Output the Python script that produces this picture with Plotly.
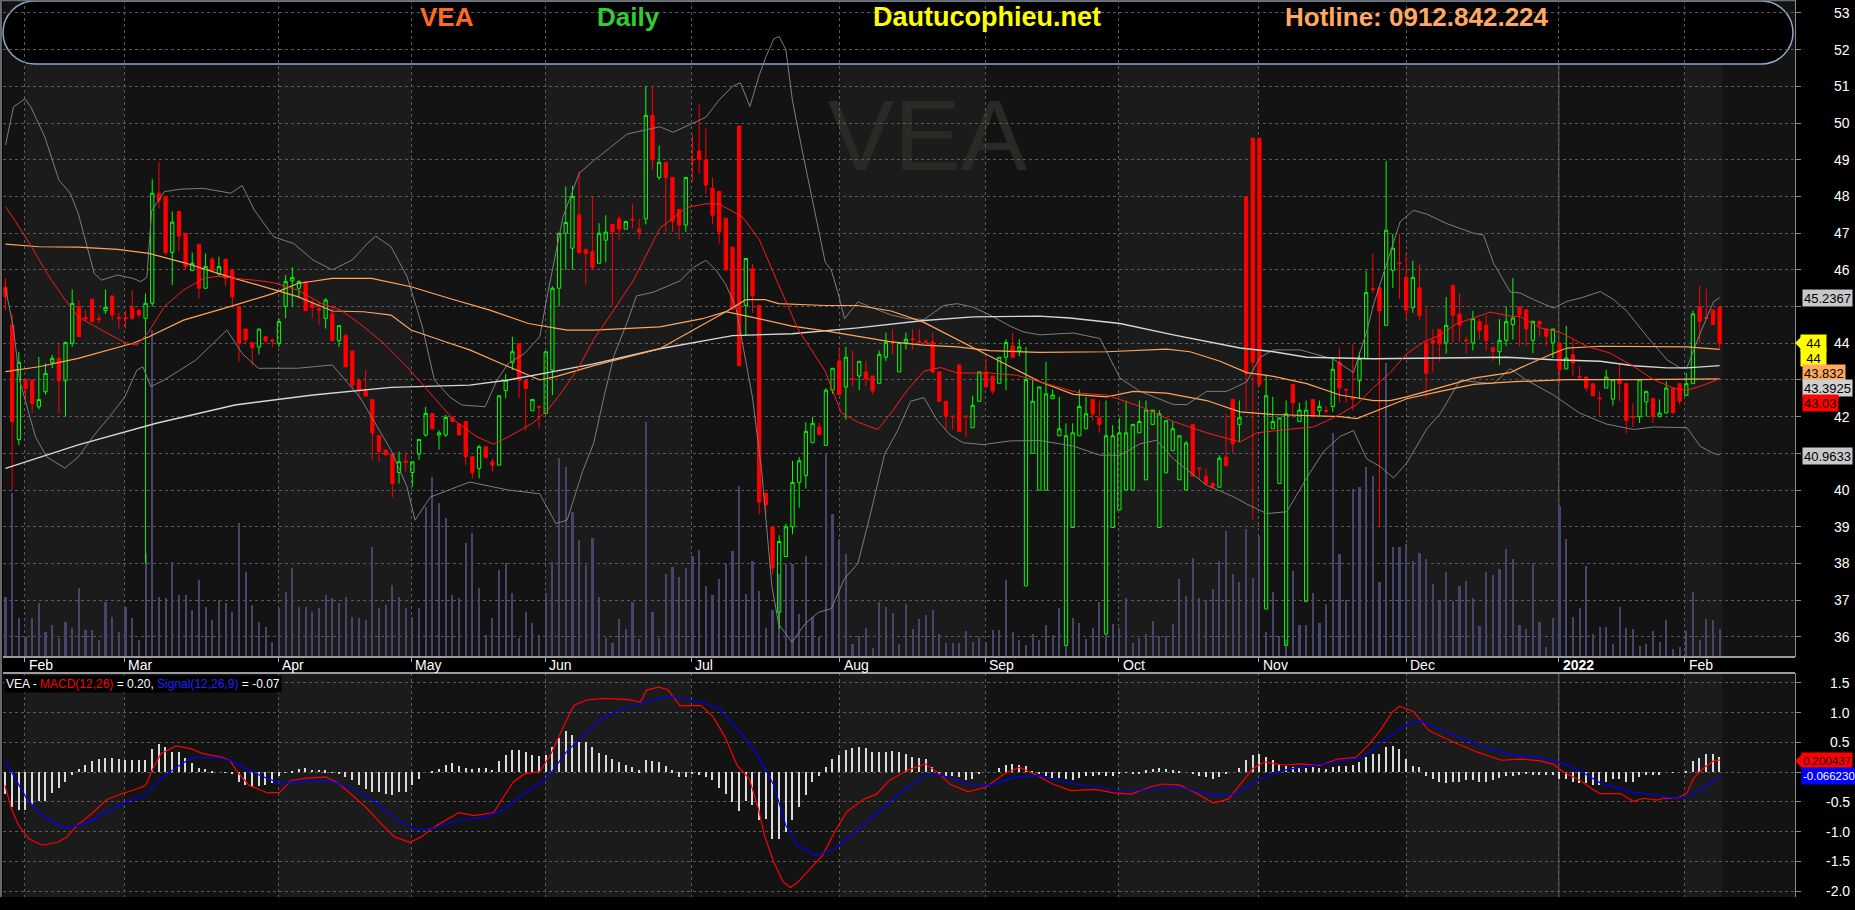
import plotly.graph_objects as go

W, H = 1855, 910
FONT = "Liberation Sans, Arial, sans-serif"

# ---------------- data ----------------
month_labels = ["Feb", "Mar", "Apr", "May", "Jun", "Jul", "Aug", "Sep",
                "Oct", "Nov", "Dec", "2022", "Feb"]
month_start = [2.9, 17.8, 40.9, 60.8, 80.9, 102.8, 125.1, 146.9,
               166.9, 187.9, 210.0, 232.9, 251.8]

open_ = [
    45.53, 44.50, 41.38, 43.00, 43.00, 42.27, 42.68, 43.48, 43.59, 42.98,
    44.00, 45.00, 44.70, 45.20, 44.68, 44.89, 45.29, 44.70, 44.70, 44.98,
    44.90, 44.68, 45.09, 48.09, 48.00, 46.47, 47.59, 47.00, 45.98, 46.70,
    45.50, 46.29, 45.89, 46.29, 46.00, 45.00, 44.39, 44.02, 43.90, 44.18,
    44.09, 44.00, 45.00, 45.70, 45.50, 45.68, 45.09, 44.94, 44.68, 44.80,
    44.07, 44.21, 43.79, 42.99, 42.71, 42.47, 41.49, 41.09, 40.98, 40.48,
    40.79, 40.48, 40.98, 41.50, 42.09, 41.50, 41.50, 41.98, 41.80, 41.87,
    40.91, 40.59, 41.18, 40.77, 40.68, 42.71, 43.48, 44.00, 42.99, 42.16,
    42.28, 42.09, 43.27, 45.50, 47.00, 46.59, 47.50, 46.55, 46.50, 46.18,
    46.81, 47.24, 47.39, 47.11, 47.38, 47.11, 47.39, 50.21, 48.52, 48.93,
    48.52, 47.65, 47.22, 49.01, 49.24, 49.00, 48.23, 48.14, 47.41, 46.62,
    49.92, 45.03, 46.03, 45.03, 39.92, 39.00, 36.67, 38.19, 39.00, 40.21,
    40.40, 41.29, 41.72, 41.22, 42.72, 43.52, 42.81, 43.04, 43.11, 43.22,
    43.11, 42.91, 43.62, 44.05, 43.22, 44.02, 44.12, 44.05, 44.05, 44.04,
    43.22, 42.42, 42.02, 43.41, 42.02, 41.70, 42.42, 43.22, 43.11, 42.91,
    43.62, 43.93, 43.80, 37.39, 41.00, 40.00, 40.00, 42.49, 41.48, 35.77,
    38.98, 41.48, 41.67, 42.47, 41.97, 36.08, 38.98, 39.46, 40.00, 40.00,
    41.56, 40.28, 41.79, 38.98, 40.47, 41.07, 40.28, 40.00, 41.79, 40.60,
    40.38, 40.18, 40.08, 40.90, 42.47, 41.79, 48.00, 49.59, 49.59, 36.76,
    41.67, 40.18, 35.77, 42.88, 41.87, 36.97, 42.47, 42.16, 42.17, 42.28,
    43.48, 42.75, 42.50, 42.98, 43.58, 45.49, 45.51, 44.49, 45.99, 46.19,
    45.79, 44.97, 45.51, 44.01, 44.08, 44.38, 44.01, 45.58, 44.80, 44.09,
    44.01, 44.59, 44.49, 43.88, 43.77, 44.08, 44.51, 44.99, 44.91, 44.08,
    44.60, 44.39, 44.01, 44.01, 43.30, 43.69, 43.09, 43.08, 42.90, 42.51,
    42.78, 42.48, 43.01, 42.90, 42.01, 42.00, 42.40, 42.50, 42.00, 42.10,
    42.78, 42.90, 42.58, 42.90, 44.99, 44.70, 44.91, 44.99,
]
high = [
    45.77, 44.80, 43.77, 43.05, 43.00, 43.63, 43.45, 43.68, 44.00, 44.05,
    45.47, 45.18, 44.90, 45.20, 44.80, 45.47, 45.29, 44.83, 44.90, 45.45,
    44.95, 45.36, 48.47, 48.95, 48.00, 47.59, 47.59, 47.00, 46.47, 46.70,
    46.45, 46.35, 46.36, 46.30, 46.00, 45.00, 44.39, 44.02, 44.39, 44.20,
    44.13, 44.68, 45.86, 46.07, 45.72, 45.68, 45.18, 45.13, 45.23, 45.04,
    44.48, 44.27, 43.79, 43.04, 43.27, 42.47, 41.49, 41.09, 40.98, 41.05,
    41.05, 40.77, 41.38, 42.27, 42.09, 41.63, 42.05, 41.98, 41.80, 41.87,
    40.91, 41.23, 41.18, 40.86, 42.57, 43.16, 44.18, 44.00, 42.99, 42.47,
    42.28, 43.77, 45.55, 47.00, 48.27, 48.29, 48.68, 46.60, 48.00, 47.27,
    47.49, 47.24, 47.49, 47.32, 47.80, 47.39, 51.01, 51.01, 49.39, 48.93,
    48.52, 47.65, 48.52, 49.70, 50.50, 49.85, 48.52, 48.14, 47.41, 46.62,
    49.92, 46.31, 46.16, 45.03, 39.92, 39.00, 38.77, 39.08, 40.80, 40.90,
    41.85, 42.00, 41.85, 42.78, 43.32, 43.90, 43.90, 43.80, 43.51, 43.51,
    43.11, 43.80, 44.29, 44.38, 44.02, 44.29, 44.38, 44.38, 44.11, 44.29,
    43.22, 42.42, 42.02, 43.41, 42.02, 42.57, 43.22, 43.60, 43.11, 43.62,
    44.11, 44.29, 44.11, 43.90, 43.01, 42.81, 43.49, 42.74, 42.54, 41.82,
    41.82, 42.74, 42.54, 42.47, 42.44, 42.44, 41.77, 41.97, 42.44, 41.79,
    42.44, 42.44, 42.18, 42.18, 41.89, 41.87, 41.48, 41.34, 41.79, 40.60,
    40.59, 40.23, 40.95, 42.08, 42.47, 42.44, 48.00, 49.59, 49.59, 43.15,
    42.54, 41.97, 42.44, 42.88, 42.38, 42.44, 42.47, 42.44, 42.28, 43.62,
    43.87, 42.75, 43.98, 43.77, 45.98, 46.44, 45.51, 48.97, 46.98, 46.98,
    46.44, 46.25, 46.15, 44.97, 44.38, 44.38, 45.26, 45.58, 45.36, 44.18,
    44.88, 44.66, 44.76, 43.88, 44.66, 45.00, 45.78, 44.99, 44.91, 44.60,
    44.60, 44.39, 44.39, 44.01, 44.48, 44.12, 43.37, 43.08, 42.90, 42.69,
    43.28, 43.01, 43.46, 42.90, 42.37, 43.01, 42.69, 42.50, 42.47, 42.96,
    42.78, 42.90, 43.19, 44.89, 45.57, 45.48, 44.91, 44.99,
]
low = [
    44.90, 40.00, 41.23, 42.45, 42.09, 42.20, 42.60, 43.32, 42.09, 42.00,
    43.90, 44.18, 44.59, 44.59, 44.55, 44.80, 44.63, 44.40, 44.40, 44.63,
    44.70, 38.00, 45.00, 47.68, 46.40, 45.59, 46.50, 46.00, 45.98, 45.22,
    45.50, 45.90, 45.82, 45.55, 44.95, 43.50, 44.00, 43.40, 43.70, 44.00,
    43.90, 43.90, 44.68, 45.00, 45.23, 44.89, 44.68, 44.50, 44.40, 44.05,
    43.90, 43.36, 42.77, 42.50, 42.56, 40.82, 40.77, 40.96, 39.80, 40.18,
    40.50, 40.09, 40.82, 41.45, 41.67, 41.10, 41.45, 41.87, 41.50, 40.68,
    40.32, 40.32, 40.89, 40.50, 40.68, 42.50, 43.27, 42.50, 41.63, 42.16,
    41.68, 42.09, 42.59, 45.00, 46.00, 46.00, 46.45, 45.60, 46.00, 46.18,
    46.21, 45.03, 46.82, 47.11, 47.13, 46.83, 47.24, 48.72, 48.45, 47.03,
    47.03, 46.83, 47.03, 48.41, 48.62, 48.06, 47.24, 46.72, 46.00, 44.93,
    43.39, 44.21, 44.83, 39.34, 39.34, 37.69, 36.21, 38.19, 38.80, 39.52,
    40.04, 41.29, 41.51, 41.22, 42.62, 42.60, 41.92, 42.83, 42.72, 42.83,
    42.62, 42.91, 43.52, 43.70, 43.22, 43.83, 43.83, 43.95, 43.95, 43.19,
    42.42, 41.65, 41.65, 41.60, 41.44, 41.70, 42.42, 42.81, 42.62, 42.91,
    42.72, 43.62, 43.65, 37.39, 41.00, 40.00, 40.00, 42.49, 41.48, 35.77,
    38.98, 41.48, 41.67, 41.89, 41.56, 36.08, 38.98, 39.46, 40.00, 40.00,
    41.56, 40.28, 41.79, 38.98, 40.47, 41.07, 40.28, 40.00, 40.38, 40.28,
    40.13, 40.08, 40.08, 40.66, 41.00, 41.31, 42.18, 39.20, 42.80, 36.76,
    41.67, 40.18, 35.77, 41.97, 41.87, 36.97, 42.00, 42.03, 42.08, 42.13,
    42.38, 42.38, 42.18, 42.49, 43.58, 45.36, 38.98, 44.49, 45.51, 45.21,
    44.62, 44.83, 44.64, 42.49, 43.20, 43.51, 43.72, 44.03, 44.03, 43.72,
    43.80, 44.11, 43.80, 43.51, 43.41, 43.92, 44.10, 43.92, 43.92, 43.73,
    44.19, 43.92, 43.60, 42.92, 43.30, 43.10, 43.01, 42.69, 42.57, 42.01,
    42.78, 42.30, 42.42, 41.54, 41.72, 41.83, 42.00, 41.83, 42.00, 42.10,
    42.10, 42.33, 42.58, 42.90, 44.01, 44.68, 44.51, 43.83,
]
close = [
    45.27, 41.86, 43.48, 42.77, 42.36, 42.47, 43.18, 43.59, 42.98, 44.02,
    45.09, 44.18, 44.66, 44.59, 44.64, 44.98, 44.77, 44.67, 44.67, 44.68,
    44.77, 45.09, 48.09, 47.89, 46.47, 47.30, 46.92, 46.09, 46.18, 45.50,
    46.09, 45.98, 46.09, 45.77, 45.27, 44.00, 44.09, 43.89, 44.39, 44.07,
    44.06, 44.59, 45.68, 45.79, 45.68, 44.89, 44.98, 44.91, 45.18, 44.07,
    44.48, 43.36, 42.86, 42.71, 42.56, 41.56, 41.05, 40.96, 40.18, 40.77,
    40.76, 40.77, 41.38, 42.09, 41.67, 41.56, 41.98, 41.87, 41.50, 40.91,
    40.47, 41.18, 40.89, 40.68, 42.57, 42.99, 43.77, 42.99, 42.77, 42.47,
    42.26, 43.77, 45.50, 47.00, 47.29, 48.00, 46.47, 46.45, 46.07, 47.00,
    47.03, 47.03, 47.11, 47.32, 47.36, 47.03, 50.21, 49.00, 48.93, 48.52,
    47.32, 47.22, 48.52, 48.99, 49.00, 48.31, 47.49, 47.03, 46.00, 44.93,
    43.39, 46.31, 45.29, 39.67, 39.60, 37.88, 38.60, 39.00, 40.21, 40.80,
    41.60, 41.82, 41.51, 42.72, 43.32, 42.60, 43.62, 43.02, 43.51, 43.03,
    42.70, 43.70, 44.02, 44.03, 44.02, 44.11, 44.10, 44.03, 44.03, 43.22,
    42.42, 42.01, 42.00, 41.60, 42.00, 42.31, 43.22, 42.81, 42.70, 43.62,
    44.02, 43.62, 43.90, 43.01, 42.42, 42.81, 42.62, 42.59, 41.67, 41.48,
    41.56, 42.28, 42.08, 42.08, 41.79, 41.48, 41.48, 41.56, 41.56, 41.79,
    41.87, 42.18, 42.18, 42.08, 41.89, 41.67, 41.48, 41.28, 40.38, 40.58,
    40.18, 40.08, 40.87, 40.66, 41.26, 41.97, 43.18, 43.48, 42.88, 42.57,
    41.87, 41.97, 42.08, 42.38, 42.18, 42.18, 42.00, 42.28, 42.15, 43.29,
    42.78, 42.73, 42.48, 43.58, 45.38, 45.47, 44.88, 47.08, 46.59, 46.17,
    44.90, 45.79, 44.76, 43.18, 44.01, 43.98, 44.49, 44.76, 44.49, 44.07,
    44.67, 44.35, 44.08, 43.77, 44.08, 44.59, 44.69, 44.78, 44.39, 44.60,
    44.51, 44.19, 44.39, 43.28, 43.60, 43.46, 43.07, 42.78, 42.57, 42.49,
    43.08, 43.01, 42.90, 41.90, 41.99, 43.01, 42.69, 42.00, 42.10, 42.78,
    42.10, 42.42, 42.90, 44.80, 44.60, 44.68, 44.51, 44.00,
]
volume = [
    60, 164, 39, 20, 39, 54, 25, 32, 19, 35, 29, 69, 27, 27, 17, 55, 40, 25, 50, 39,
    17, 104, 327, 60, 59, 95, 62, 62, 47, 77, 50, 37, 57, 54, 45, 134, 85, 52, 35, 30,
    15, 49, 65, 89, 50, 50, 45, 49, 62, 59, 54, 60, 40, 39, 37, 110, 49, 52, 72, 60,
    49, 40, 49, 150, 180, 154, 139, 62, 59, 114, 124, 69, 22, 39, 87, 94, 64, 19, 45, 34,
    22, 64, 95, 199, 190, 145, 117, 92, 119, 60,
    19, 14, 38, 28, 55, 18, 235, 45, 19, 83, 90, 80, 89, 101, 107, 71, 62, 78, 93, 106,
    171, 63, 96, 66, 29, 47, 83, 93, 93, 43, 101, 40, 20, 204, 143, 118, 103, 13, 21, 29,
    9, 55, 50, 44, 13, 53, 28, 38, 42, 47, 23, 14, 14, 14, 26, 15, 20, 15, 27, 27,
    77, 25, 17, 12, 23, 17, 32,
    22, 49, 12, 39, 34, 18, 29, 55, 23, 33, 29, 59, 14, 19, 23, 36, 21, 21, 33, 78,
    61, 99, 59, 57, 68, 96, 126, 83, 75, 128, 79, 121, 25, 65, 21, 17, 86, 32, 32, 64,
    34, 53, 224, 103, 57, 168, 170, 190, 181, 75, 294, 110, 110, 113, 96, 104, 98, 73, 57, 85,
    56, 71, 76, 59, 31, 85, 82,
    88, 108, 98, 32, 28, 94, 35, 10, 39, 151, 118, 40, 49, 91, 23, 30, 30, 13, 50, 29,
    28, 11, 13, 26, 15, 37, 8, 10, 26, 65, 17, 38, 37, 28,
]
macd_hist = [
    -0.36, -0.59, -0.63, -0.63, -0.56, -0.49, -0.48, -0.35, -0.27, -0.16,
    -0.05, 0.06, 0.12, 0.18, 0.22, 0.24, 0.24, 0.22, 0.20, 0.20,
    0.20, 0.20, 0.39, 0.48, 0.42, 0.34, 0.34, 0.24, 0.16, 0.07,
    0.06, 0.02, 0.00, -0.01, -0.03, -0.17, -0.22, -0.25, -0.24, -0.22,
    -0.18, -0.06, -0.01, 0.01, 0.06, 0.07, 0.04, 0.04, 0.03, -0.01,
    -0.03, -0.08, -0.14, -0.22, -0.28, -0.34, -0.34, -0.36, -0.39, -0.34,
    -0.34, -0.22, -0.12, 0.00, 0.01, 0.06, 0.12, 0.16, 0.11, 0.07,
    0.06, 0.07, 0.07, 0.04, 0.18, 0.28, 0.38, 0.38, 0.34, 0.29,
    0.27, 0.29, 0.42, 0.57, 0.70, 0.62, 0.50,
    0.51, 0.42, 0.32, 0.28, 0.22, 0.17, 0.12, 0.08, 0.03, 0.20,
    0.19, 0.17, 0.11, 0.03, -0.08, -0.08, -0.03, -0.04, -0.08, -0.14,
    -0.27, -0.37, -0.51, -0.65, -0.48, -0.56, -0.81, -0.79, -1.12, -1.12,
    -1.01, -0.81, -0.59, -0.38, -0.16, -0.06, 0.08, 0.22, 0.28, 0.38,
    0.40, 0.42, 0.40, 0.34, 0.34, 0.34, 0.35, 0.34, 0.31, 0.25,
    0.24, 0.22, 0.08, -0.03, -0.06, -0.07, -0.08, -0.14, -0.12, -0.03,
    0.00, 0.00, 0.07, 0.12, 0.14, 0.12, 0.10, 0.01, -0.03, -0.07,
    -0.10, -0.10, -0.11, -0.14, -0.10, -0.07, -0.06, -0.04, -0.06, -0.06,
    -0.03, -0.01, -0.03, -0.03, 0.03, 0.06, 0.07, 0.06, 0.03, 0.01,
    0.00, -0.03, -0.07, -0.08, -0.12, -0.08, -0.03, 0.00, 0.07, 0.20,
    0.28, 0.30, 0.25, 0.21, 0.14, 0.11, 0.08, 0.08, 0.07, 0.08,
    0.07, 0.06, 0.08, 0.10, 0.10, 0.12, 0.17, 0.25, 0.31, 0.31,
    0.42, 0.44, 0.39, 0.22, 0.11, 0.08, -0.07, -0.12, -0.17, -0.18,
    -0.17, -0.16, -0.14, -0.14, -0.16, -0.17, -0.14, -0.10, -0.07, -0.06,
    -0.04, -0.03,
    -0.04, -0.04, -0.04, -0.04, -0.12, -0.12, -0.17, -0.18, -0.18, -0.21,
    -0.21, -0.17, -0.12, -0.12, -0.17, -0.17, -0.08, -0.04, -0.04, -0.04,
    0.00, -0.01, 0.00, 0.02, 0.19, 0.24, 0.30, 0.30, 0.26,
]

# indicator lines, sampled as (bar index, value)
ma20_pts = [
    (0, 47.72), (1.5, 47.32), (3.9, 46.63), (6.2, 45.91), (8.6, 45.27), (10.9, 44.72),
    (14.4, 44.36), (17.9, 44.02), (19.7, 43.95), (21.5, 44.32), (23.8, 45.0), (26.7, 45.45),
    (29.7, 45.77), (32.0, 45.83), (34.4, 45.77), (37.9, 45.71), (40.2, 45.65), (43.8, 45.45),
    (47.3, 45.09), (50.2, 44.91), (53.1, 44.54), (56.7, 44.0), (60.2, 43.36), (63.7, 42.63),
    (67.2, 41.91), (70.7, 41.45), (73.2, 41.25), (75.4, 41.45), (79.0, 41.82), (81.3, 42.18),
    (83.6, 42.72), (86.0, 43.36), (88.2, 44.11), (90.7, 44.77), (94.1, 45.7), (98.1, 47.13),
    (102.1, 47.7), (105.0, 47.8), (107.0, 47.8), (110.5, 47.44), (113.0, 46.83), (115.9, 45.6),
    (118.9, 44.36), (122.9, 43.24), (125.3, 42.11), (127.8, 41.85), (130.8, 41.65), (132.8, 42.11),
    (135.2, 42.72), (137.7, 43.24), (140.2, 43.34), (142.7, 43.19), (147.6, 43.19), (151.6, 43.13),
    (155.1, 42.95), (158.1, 42.8), (161.1, 42.64), (165.1, 42.59), (170.1, 42.28), (175.1, 41.87),
    (180.1, 41.56), (185.1, 41.31), (187.6, 41.56), (193.1, 41.67), (196.1, 41.72), (199.1, 41.97),
    (202.6, 42.33), (205.1, 42.8), (207.6, 43.2), (210.1, 43.72), (212.6, 44.03), (215.1, 44.23),
    (217.6, 44.54), (220.1, 44.69), (222.6, 44.85), (225.6, 44.74), (227.1, 44.73), (230.1, 44.42),
    (233.1, 44.3), (237.1, 43.92), (240.6, 43.73), (244.1, 43.37), (247.1, 43.01), (250.1, 42.78),
    (252.1, 42.72), (254.1, 42.83), (257, 43.03),
]
ma50_pts = [
    (0, 46.7), (5, 46.63), (10.9, 46.62), (16.8, 46.56), (21.5, 46.45), (26.7, 46.2),
    (33.2, 45.83), (40.2, 45.45), (43.8, 45.27), (49, 44.88), (53.7, 44.86), (57.8, 44.77),
    (60.8, 44.36), (66.6, 44.0), (69.6, 43.82), (74.3, 43.45), (80.1, 43.0), (82.5, 43.09),
    (87.2, 43.32), (88.2, 43.39), (98.1, 43.85), (103.1, 44.36), (108, 44.86), (111, 45.19),
    (113.9, 45.19), (115.9, 45.08), (122.9, 45.03), (127.8, 45.03), (132.8, 44.88), (137.7, 44.57),
    (142.7, 44.11), (147.6, 43.65), (152, 43.25), (155.1, 42.95), (160.1, 42.61), (165.1, 42.54),
    (169.1, 42.69), (174.1, 42.64), (180.1, 42.44), (185.1, 42.13), (190.1, 42.06), (195.1, 42.03),
    (200.1, 42.0), (202.6, 41.95), (205.1, 42.13), (210.1, 42.49), (215.1, 42.69), (220.1, 42.88),
    (225.6, 42.95), (234.1, 43.01), (244.1, 43.01), (257, 43.03),
]
ma100_pts = [
    (0, 43.23), (5, 43.36), (10.9, 43.59), (19.1, 44.0), (21.5, 44.18), (26.7, 44.63),
    (34.4, 45.04), (40.2, 45.36), (43.8, 45.63), (49, 45.77), (54.9, 45.77), (60.8, 45.54),
    (66.6, 45.22), (72.5, 44.91), (78.4, 44.54), (84.2, 44.36), (88.2, 44.36), (98.1, 44.45),
    (104.5, 44.67), (108, 44.86), (112.9, 44.67), (117.9, 44.47), (122.9, 44.34), (132.8, 44.04),
    (137.7, 43.95), (142.7, 43.9), (147.6, 43.8), (155, 43.75), (165.1, 43.77), (174.1, 43.84),
    (177.6, 43.77), (182.1, 43.51), (186.1, 43.2), (190.1, 43.1), (195.1, 42.9), (200.1, 42.59),
    (205.1, 42.44), (207.6, 42.44), (210.1, 42.54), (215.1, 42.8), (220.1, 43.05), (225.6, 43.2),
    (227.1, 43.33), (232.1, 43.73), (234.1, 43.87), (239.1, 43.92), (244.1, 43.92), (252.1, 43.9),
    (257, 43.832),
]
ma200_pts = [
    (0, 40.59), (10.9, 41.23), (22.6, 41.82), (34.4, 42.32), (46.1, 42.59), (57.8, 42.8),
    (69.6, 42.86), (75.4, 43.0), (81.3, 43.2), (88.2, 43.44), (98.1, 43.85), (109, 44.21),
    (117.9, 44.26), (127.8, 44.42), (137.7, 44.62), (145.1, 44.72), (155, 44.74), (159.6, 44.69),
    (167.1, 44.54), (175.1, 44.23), (185.1, 43.87), (190.1, 43.77), (195.1, 43.62), (205.1, 43.58),
    (225.1, 43.62), (232, 43.55), (239.1, 43.51), (244.1, 43.39), (249.1, 43.33), (252.1, 43.33),
    (257, 43.3925),
]
bb_upper_pts = [
    (0, 49.4), (1.2, 50.44), (2.9, 50.66), (3.8, 50.44), (5.9, 49.62), (8.0, 48.45), (9.7, 48.09),
    (10.9, 47.54), (12.1, 46.73), (13.3, 45.9), (14.4, 45.72), (16.8, 45.86), (19.1, 45.77),
    (20.3, 45.68), (21.2, 45.8), (21.9, 47.6), (23.8, 48.13), (26.2, 48.2), (29.7, 48.22),
    (33.8, 48.09), (35.5, 48.3), (37.3, 47.63), (40.2, 46.9), (43.2, 46.72), (46.1, 46.27),
    (49, 46.0), (52, 46.27), (54.3, 46.73), (55.5, 46.92), (57.8, 46.63), (60.2, 45.82),
    (62.5, 44.45), (64.3, 43.0), (66.6, 42.54), (68.4, 42.32), (71.9, 42.27), (73.7, 43.0),
    (75.4, 43.45), (77.8, 43.72), (80.1, 44.18), (81.3, 45.36), (83.6, 47.45), (86.0, 48.63),
    (88.2, 48.98), (90.7, 49.34), (93.2, 49.7), (98.1, 49.9), (100.1, 49.75), (103.1, 50.0),
    (105, 50.16), (107, 50.63), (109, 51.0), (110.2, 51.1), (111.6, 50.45), (113, 51.3),
    (114, 51.8), (115.2, 52.3), (116, 52.36), (117, 52.0), (118, 50.6), (119.4, 49.3),
    (121, 47.9), (122.9, 46.21), (123.8, 46.0), (124.8, 45.39), (125.8, 44.67), (127.8, 45.13),
    (129.8, 44.98), (132.8, 44.77), (135.2, 44.67), (137.7, 44.65), (140.7, 45.03), (142.7, 45.08),
    (145.1, 44.98), (147.6, 44.77), (150.6, 44.47), (152.6, 44.31), (155.1, 44.23), (160.1, 44.28),
    (164.1, 44.13), (167.1, 43.05), (170.1, 42.69), (175.1, 42.33), (177.1, 42.33), (180.1, 42.69),
    (183.1, 42.69), (186.1, 42.95), (188.1, 43.62), (190.1, 43.82), (194.1, 43.82), (199.1, 43.57),
    (202.1, 43.2), (204.1, 44.33), (205.1, 45.05), (207.1, 46.18), (209.1, 47.31), (211.1, 47.62),
    (213.1, 47.52), (216.1, 47.26), (220.1, 47.0), (221.6, 46.95), (223.1, 46.18), (225.6, 45.4),
    (227.1, 45.37), (229.1, 45.19), (232.1, 44.96), (234.1, 45.14), (236.1, 45.23), (239.1, 45.41),
    (241.1, 45.19), (243.1, 44.87), (246.1, 44.19), (249.1, 43.55), (251.1, 43.33), (252.1, 43.33),
    (254.1, 44.28), (256.1, 45.14), (257, 45.2367),
]
bb_lower_pts = [
    (0, 45.5), (1.2, 44.4), (2.1, 43.0), (3.3, 42.2), (4.5, 41.45), (6.2, 40.9), (8.9, 40.6),
    (10.9, 40.9), (13.3, 41.5), (15.6, 42.0), (17.9, 42.54), (19.7, 43.27), (20.6, 43.36),
    (21.8, 42.82), (23.8, 43.0), (28.5, 43.54), (33.2, 44.36), (35.5, 43.72), (37.9, 43.32),
    (43.8, 43.32), (49, 43.41), (53.1, 42.54), (57.8, 41.09), (60.2, 40.09), (61.4, 39.18),
    (63.7, 39.81), (69.6, 40.22), (75.4, 40.0), (80.1, 39.9), (82.5, 39.09), (84.2, 39.18),
    (86.5, 40.5), (88.2, 41.29), (89.7, 42.52), (91.2, 43.65), (93.2, 44.57), (94.6, 45.29),
    (97.1, 45.39), (101.1, 45.7), (103.1, 46.06), (105, 46.26), (106.5, 46.0), (108, 45.6),
    (109.5, 44.98), (111, 43.54), (112, 42.52), (113.4, 40.47), (114.9, 37.39), (115.9, 36.36),
    (117.9, 35.85), (119.9, 36.36), (121.9, 36.67), (123.8, 36.77), (125.8, 37.59), (127.8, 38.0),
    (129.8, 39.44), (131.8, 40.98), (133.7, 41.6), (135.7, 42.42), (137.7, 42.52), (139.7, 41.9),
    (141.7, 41.49), (143.6, 41.29), (146.6, 41.24), (150.6, 41.34), (155.1, 41.35), (160.1, 41.2),
    (164.1, 40.95), (167.1, 40.95), (170.1, 41.26), (172.6, 41.36), (175.1, 40.85), (180.1, 40.13),
    (184.1, 39.82), (186.1, 39.62), (189.1, 39.36), (192.1, 39.41), (195.1, 40.33), (197.6, 41.05),
    (200.1, 41.46), (202.1, 41.62), (204.1, 40.85), (206.1, 40.64), (208.1, 40.33), (210.1, 40.74),
    (213.1, 41.67), (215.1, 42.08), (218.1, 43.0), (220.1, 42.95), (223.1, 42.9), (225.6, 43.31),
    (228, 43.0), (232, 42.6), (236, 42.1), (240, 41.8), (244.1, 41.65), (247.1, 41.72),
    (252.1, 41.7), (254.1, 41.19), (256.1, 41.0), (257, 40.9633),
]
macd_pts = [
    (-0.1, -0.22), (0.9, -0.62), (2.0, -0.9), (3.5, -1.12), (5.5, -1.23), (7.8, -1.18),
    (9.2, -1.09), (10.7, -0.9), (12.9, -0.7), (15.2, -0.46), (17.5, -0.36), (19.8, -0.28),
    (21, -0.22), (22.1, 0.06), (23.3, 0.31), (25.6, 0.44), (27.9, 0.39), (29.6, 0.31),
    (32.5, 0.25), (33.6, 0.2), (34.8, 0.0), (36.5, -0.22), (39.3, -0.35), (41.1, -0.34),
    (42.8, -0.14), (45.1, -0.1), (48.0, -0.08), (49.7, -0.17), (52, -0.39), (54.3, -0.62),
    (56.6, -0.9), (58.3, -1.09), (60.6, -1.18), (62.3, -1.09), (64.6, -0.9), (68, -0.68),
    (70.3, -0.73), (73.2, -0.68), (76.1, -0.17), (77.8, -0.03), (80.1, 0.01), (81.8, 0.31),
    (83.5, 0.73), (85.2, 1.12), (87, 1.21), (89.7, 1.24), (93.4, 1.22), (95.2, 1.18),
    (96.1, 1.38), (97.9, 1.43), (99.3, 1.39), (101.1, 1.12), (104.3, 1.12), (106.1, 0.93),
    (107.9, 0.59), (109.7, 0.11), (111.5, -0.11), (112.9, -0.62), (113.8, -1.07), (115.2, -1.52),
    (116.6, -1.85), (117.7, -1.94), (118.8, -1.85), (120.6, -1.63), (122.5, -1.4), (124.3, -1.01),
    (126.1, -0.67), (128.8, -0.45), (130.6, -0.37), (132.5, -0.14), (135.2, 0.03), (137.9, 0.14),
    (139.7, 0.0), (141.6, -0.2), (144.3, -0.33), (147, -0.25), (149.7, -0.03), (152, 0.08),
    (154.3, -0.03), (157, -0.2), (159.7, -0.31), (163.4, -0.29), (166.1, -0.35), (168.8, -0.37),
    (171.6, -0.25), (173.4, -0.2), (176.1, -0.22), (178.8, -0.37), (181.1, -0.52), (183.4, -0.45),
    (185.2, -0.2), (187, 0.06), (188.8, 0.17), (191.5, 0.12), (194.3, 0.14), (197, 0.11),
    (199.7, 0.22), (202.5, 0.25), (204.3, 0.45), (206.1, 0.7), (207.9, 1.01), (209, 1.11),
    (211.1, 1.02), (213.4, 0.7), (217, 0.51), (220.6, 0.34), (224.3, 0.2), (227.1, 0.22),
    (230.1, 0.19), (232.1, 0.13), (233.6, 0.0), (236.1, -0.14), (238.1, -0.3), (239.1, -0.36),
    (242.1, -0.36), (244.1, -0.49), (245.6, -0.44), (247.6, -0.47), (248.6, -0.44), (250.6, -0.44),
    (252.1, -0.35), (253.1, -0.1), (254.6, 0.07), (256.1, 0.19), (257, 0.2004),
]
signal_pts = [
    (-0.1, 0.2), (1.5, -0.11), (3.2, -0.45), (5.5, -0.73), (8.9, -0.94), (11.8, -0.87),
    (15.2, -0.67), (18.1, -0.5), (21, -0.39), (23.3, -0.11), (25.6, 0.08), (27.9, 0.24),
    (31.3, 0.25), (33.6, 0.2), (36.5, 0.03), (39.3, -0.11), (41.6, -0.2), (45.1, -0.14),
    (48.5, -0.14), (52, -0.28), (55.4, -0.5), (58.8, -0.81), (61.7, -0.98), (64, -0.95),
    (68, -0.81), (72, -0.76), (74.9, -0.62), (77.8, -0.36), (81.2, -0.1), (84.1, 0.34),
    (86.1, 0.56), (89.7, 0.93), (93.4, 1.1), (96.1, 1.18), (99.3, 1.28), (102.5, 1.21),
    (105.2, 1.15), (107, 1.07), (109.7, 0.73), (112.5, 0.34), (115.2, -0.22), (117, -0.9),
    (118.8, -1.24), (121.5, -1.4), (124.3, -1.29), (127.9, -0.96), (131.6, -0.59), (135.2, -0.25),
    (138.4, -0.04), (140.6, -0.06), (144.3, -0.2), (147.9, -0.21), (151.6, -0.08), (155.2, -0.06),
    (158.8, -0.17), (163.4, -0.25), (167.9, -0.33), (172.5, -0.28), (176.1, -0.25), (180.6, -0.39),
    (184.3, -0.37), (187.9, -0.12), (191.5, 0.03), (195.2, 0.1), (199.7, 0.17), (203.4, 0.25),
    (207, 0.56), (209.7, 0.79), (212, 0.87), (215.2, 0.7), (218.8, 0.56), (222.5, 0.39),
    (226.1, 0.29), (230.1, 0.24), (233.1, 0.16), (236.1, 0.02), (239.1, -0.18), (242.1, -0.27),
    (244.1, -0.34), (247.1, -0.38), (250.1, -0.44), (252.1, -0.41), (254.1, -0.3), (256.1, -0.15),
    (257, -0.0662),
]

# tick labels that are not hidden behind the last-value tags
price_ticks = [36, 37, 38, 39, 40, 42, 44, 46, 47, 48, 49, 50, 51, 52, 53]
macd_ticks = [1.5, 1.0, 0.5, -0.5, -1.0, -1.5, -2.0]
price_tags = ["45.2367", "44", "44", "43.832", "43.3925", "43.03", "40.9633"]
macd_tags = ["0.200437", "-0.066230"]

n = len(close)
assert all(len(a) == n for a in (open_, high, low, volume, macd_hist)), \
    [len(a) for a in (open_, high, low, close, volume, macd_hist)]
bars = list(range(n))

# ---------------- geometry (pixels of the 1855x910 page) ----------------
def px(x):
    return x / W


def py(y):
    return 1 - y / H


X0, X1 = 3, 1795
PRICE_BOTTOM, STRIP_BOTTOM, MACD_BOTTOM = 657, 673, 897
x_range = [-0.375, 268.3]
price_range = [35.452, 53.354]
macd_range = [-2.101, 1.668]
grid = "#5a5a5a"


def unzip(pts):
    return [p[0] for p in pts], [p[1] for p in pts]


fig = go.Figure()

fig.add_trace(go.Bar(x=bars, y=volume, xaxis="x", yaxis="y", width=0.32,
                     marker=dict(color="#46466c", line=dict(width=0))))

for pts, color, width in [(bb_upper_pts, "#7d7d7d", 1), (bb_lower_pts, "#7d7d7d", 1),
                          (ma200_pts, "#d6d6d6", 1.4), (ma100_pts, "#ffa45a", 1.2),
                          (ma50_pts, "#ffa45a", 1.2), (ma20_pts, "#ff1a1a", 1)]:
    xs, ys = unzip(pts)
    fig.add_trace(go.Scatter(x=xs, y=ys, xaxis="x", yaxis="y3", mode="lines",
                             line=dict(color=color, width=width)))

fig.add_trace(go.Candlestick(
    x=bars, open=open_, high=high, low=low, close=close, xaxis="x", yaxis="y3",
    whiskerwidth=0,
    increasing=dict(line=dict(color="#00ff00", width=1), fillcolor="rgba(0,0,0,0)"),
    decreasing=dict(line=dict(color="#ff0000", width=1), fillcolor="#ff0000"),
))

fig.add_trace(go.Bar(x=bars, y=macd_hist, xaxis="x2", yaxis="y2", width=0.2,
                     marker=dict(color="#dadada", line=dict(width=0))))
for pts, color in [(macd_pts, "#ff0000"), (signal_pts, "#0000ff")]:
    xs, ys = unzip(pts)
    fig.add_trace(go.Scatter(x=xs, y=ys, xaxis="x2", yaxis="y2", mode="lines",
                             line=dict(color=color, width=1.2)))

# ---------------- background shapes ----------------
shapes = []
edges = [x_range[0]] + month_start + [n - 0.5]
for k in range(len(edges) - 1):
    shapes.append(dict(type="rect", xref="x", yref="paper", layer="below",
                       x0=edges[k], x1=edges[k + 1], y0=py(MACD_BOTTOM), y1=1,
                       line=dict(width=0),
                       fillcolor="#1b1b1b" if k % 2 else "#131313"))
shapes.append(dict(type="rect", xref="x", yref="paper", layer="below",
                   x0=n - 0.5, x1=x_range[1], y0=py(MACD_BOTTOM), y1=1,
                   line=dict(width=0), fillcolor="#131313"))
shapes.append(dict(type="rect", xref="paper", yref="paper", layer="below",
                   x0=px(X0), x1=px(X1), y0=py(STRIP_BOTTOM), y1=py(PRICE_BOTTOM),
                   line=dict(width=0), fillcolor="#000000"))
year_x = month_start[month_labels.index("2022")]
for ya, yb in [(PRICE_BOTTOM, 0), (MACD_BOTTOM, STRIP_BOTTOM)]:
    shapes.append(dict(type="line", xref="x", yref="paper", layer="below",
                       x0=year_x, x1=year_x, y0=py(ya), y1=py(yb),
                       line=dict(color="#5e5e5e", width=1)))

# rounded title banner
r, bx0, bx1, by0, by1 = 31.5, 3, 1793, 1, 64
k = 0.5523 * r
cy = (by0 + by1) / 2
P = lambda x, y: f"{px(x):.5f},{py(y):.5f}"
banner = (f"M {P(bx0 + r, by0)} L {P(bx1 - r, by0)} "
          f"C {P(bx1 - r + k, by0)} {P(bx1, cy - k)} {P(bx1, cy)} "
          f"C {P(bx1, cy + k)} {P(bx1 - r + k, by1)} {P(bx1 - r, by1)} "
          f"L {P(bx0 + r, by1)} "
          f"C {P(bx0 + r - k, by1)} {P(bx0, cy + k)} {P(bx0, cy)} "
          f"C {P(bx0, cy - k)} {P(bx0 + r - k, by0)} {P(bx0 + r, by0)} Z")
shapes.append(dict(type="path", xref="paper", yref="paper", layer="below", path=banner,
                   fillcolor="#000000", line=dict(color="#8ea8cc", width=1.5)))

# watermark
shapes.append(dict(type="rect", xref="paper", yref="paper", layer="below",
                   x0=px(800), x1=px(1055), y0=py(180), y1=py(72),
                   line=dict(width=0), fillcolor="rgba(0,0,0,0)",
                   label=dict(text="VEA", textposition="middle center",
                              font=dict(family=FONT, size=100, color="#2b2923"))))

# strip borders and frame
for yy in (PRICE_BOTTOM, STRIP_BOTTOM):
    shapes.append(dict(type="line", xref="paper", yref="paper",
                       x0=px(X0), x1=px(X1), y0=py(yy), y1=py(yy),
                       line=dict(color="#9c9c9c", width=2)))
shapes.append(dict(type="line", xref="paper", yref="paper", x0=px(1), x1=px(1),
                   y0=py(MACD_BOTTOM), y1=1, line=dict(color="#6a6a6a", width=2)))
shapes.append(dict(type="line", xref="paper", yref="paper", x0=0, x1=px(X1),
                   y0=py(0.5), y1=py(0.5), line=dict(color="#6a6a6a", width=1.5)))

# little pointers in front of the last-value tags
for ty, col in [(343, "#ffff00"), (761, "#ff0000")]:
    shapes.append(dict(type="path", xref="paper", yref="paper",
                       path=f"M {P(1795, ty)} L {P(1802, ty - 7)} L {P(1802, ty + 7)} Z",
                       fillcolor=col, line=dict(width=0)))

# ---------------- text ----------------
ann = []
for text, cx, color, size in [("VEA", 447, "#ff6a22", 26), ("Daily", 628, "#33cc33", 26),
                              ("Dautucophieu.net", 987, "#ffff00", 27),
                              ("Hotline: 0912.842.224", 1417, "#ffa862", 26)]:
    ann.append(dict(text=f"<b>{text}</b>", xref="paper", yref="paper", x=px(cx), y=py(17),
                    xanchor="center", yanchor="middle", showarrow=False,
                    font=dict(family=FONT, size=size, color=color)))

for p in price_ticks:
    ann.append(dict(text=str(p), xref="paper", yref="y3", x=px(1852), y=p,
                    xanchor="right", yanchor="middle", showarrow=False,
                    font=dict(family=FONT, size=14, color="#ffffff")))
for v in macd_ticks:
    ann.append(dict(text=f"{v:.1f}", xref="paper", yref="y2", x=px(1852), y=v,
                    xanchor="right", yanchor="middle", showarrow=False,
                    font=dict(family=FONT, size=14, color="#ffffff")))

for lab, pos in zip(month_labels, month_start):
    ann.append(dict(text=f"<b>{lab}</b>" if lab == "2022" else lab,
                    xref="x", yref="paper", x=pos, y=py(665), xshift=2,
                    xanchor="left", yanchor="middle", showarrow=False,
                    font=dict(family=FONT, size=14, color="#ffffff")))

ann.append(dict(
    text=("VEA - <span style='color:#ff0000'>MACD(12,26)</span> = 0.20, "
          "<span style='color:#2020ff'>Signal(12,26,9)</span> = -0.07"),
    xref="paper", yref="paper", x=px(4), y=py(675), xanchor="left", yanchor="top",
    showarrow=False, bgcolor="#000000", borderpad=1,
    font=dict(family=FONT, size=12, color="#ffffff")))

tag_style = [  # (left px, centre px, background, text colour, fixed width)
    (1802, 298, "#c8c8c8", "#000000", None),
    (1800, 343, "#ffff00", "#000000", 23),
    (1800, 358, "#ffff00", "#000000", 23),
    (1802, 373, "#ffa862", "#000000", None),
    (1802, 388, "#d0d0d0", "#000000", None),
    (1802, 403, "#ff0000", "#000000", None),
    (1802, 456, "#c8c8c8", "#000000", None),
]
for text, (lx, cyy, bg, fg, wd) in zip(price_tags, tag_style):
    a = dict(text=text, xref="paper", yref="paper", x=px(lx), y=py(cyy),
             xanchor="left", yanchor="middle", showarrow=False, bgcolor=bg,
             borderpad=1, height=14, font=dict(family=FONT, size=13, color=fg))
    if wd:
        a["width"] = wd
    ann.append(a)
for text, (cyy, bg, fg) in zip(macd_tags, [(761, "#ff0000", "#200000"),
                                           (776, "#0000ff", "#ffffff")]):
    ann.append(dict(text=text, xref="paper", yref="paper", x=px(1801), y=py(cyy),
                    xanchor="left", yanchor="middle", showarrow=False, bgcolor=bg,
                    borderpad=1, height=14, font=dict(family=FONT, size=11.5, color=fg)))

axis_common = dict(showgrid=True, gridcolor=grid, griddash="dot", gridwidth=1,
                   zeroline=False, fixedrange=True)
fig.update_layout(
    width=W, height=H, margin=dict(l=0, r=0, t=0, b=0),
    paper_bgcolor="#000000", plot_bgcolor="rgba(0,0,0,0)",
    showlegend=False, hovermode=False, dragmode=False, bargap=0,
    font=dict(family=FONT, color="#ffffff"),
    xaxis=dict(domain=[px(X0), px(X1)], range=x_range, anchor="y",
               tickvals=month_start, showticklabels=False, ticks="outside",
               ticklen=4, tickcolor="#aaaaaa", rangeslider=dict(visible=False),
               **axis_common),
    yaxis=dict(domain=[py(PRICE_BOTTOM), 1], range=[0, PRICE_BOTTOM], visible=False,
               fixedrange=True),
    yaxis3=dict(overlaying="y", anchor="x", side="right", range=price_range,
                tick0=0, dtick=1, ticks="outside", ticklen=5, tickcolor="#8a8a8a",
                showticklabels=False, showline=True, linecolor="#8a8a8a", **axis_common),
    xaxis2=dict(domain=[px(X0), px(X1)], range=x_range, anchor="y2",
                tickvals=month_start, showticklabels=False, ticks="", **axis_common),
    yaxis2=dict(domain=[py(MACD_BOTTOM), py(STRIP_BOTTOM)], range=macd_range,
                anchor="x2", side="right", tick0=0, dtick=0.5, ticks="outside",
                ticklen=5, tickcolor="#8a8a8a", showticklabels=False, showline=True,
                linecolor="#8a8a8a", **axis_common),
    shapes=shapes, annotations=ann,
)

# the page keeps the browser's default 8px body margin unless told otherwise
fig.write_html("out.html", config={"displayModeBar": False},
               post_script="document.body.style.margin='0px';"
                           "document.body.style.overflow='hidden';")
